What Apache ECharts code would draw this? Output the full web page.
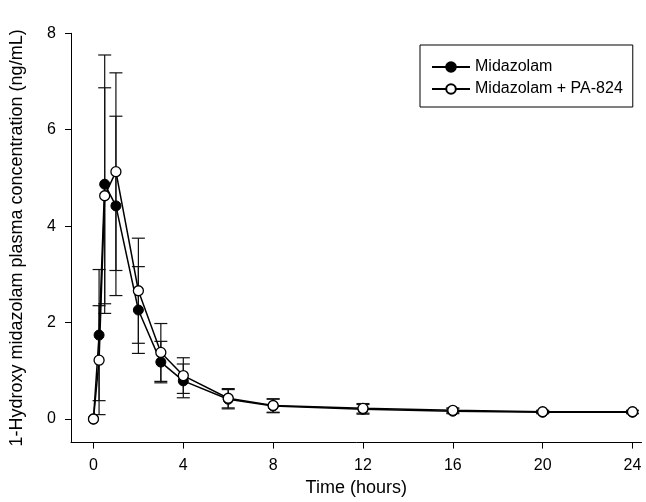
<!DOCTYPE html>
<html>
<head>
<meta charset="utf-8">
<script src="https://cdn.jsdelivr.net/npm/echarts@6/dist/echarts.min.js"></script>
<style>
  html, body { margin: 0; padding: 0; background: #fff; }
  #chart { width: 646px; height: 502px; }
</style>
</head>
<body>
<div id="chart"></div>
<script>
// sampling times (hours)
const times = [0, 0.25, 0.5, 1, 2, 3, 4, 6, 8, 12, 16, 20, 24];
// Midazolam alone: mean and SD
const mdzMean = [0, 1.74, 4.87, 4.42, 2.26, 1.18, 0.79, 0.41, 0.27, 0.20, 0.16, 0.14, 0.14];
const mdzSd = [0, 1.36, 2.68, 1.86, 0.90, 0.43, 0.35, 0.20, 0.14, 0.10, 0.05, 0.03, 0.03];
// Midazolam + PA-824: mean and SD
const comboMean = [0, 1.22, 4.63, 5.13, 2.66, 1.38, 0.90, 0.43, 0.28, 0.22, 0.18, 0.15, 0.15];
const comboSd = [0, 1.13, 2.24, 2.05, 1.09, 0.60, 0.37, 0.20, 0.14, 0.10, 0.05, 0.03, 0.03];
const xTicks = [0, 4, 8, 12, 16, 20, 24];
const yTicks = [0, 2, 4, 6, 8];

const font = '"Liberation Sans", Arial, sans-serif';

function pairs(mean) {
  return times.map((t, i) => [t, mean[i]]);
}
function bars(mean, sd) {
  const out = [];
  times.forEach((t, i) => {
    if (sd[i] > 0) out.push([t, mean[i] - sd[i], mean[i] + sd[i]]);
  });
  return out;
}
function errorItem(params, api) {
  const x = api.value(0);
  const lo = api.coord([x, api.value(1)]);
  const hi = api.coord([x, api.value(2)]);
  const w = 6.5;
  const style = { stroke: '#111', lineWidth: 1.2, fill: null };
  return {
    type: 'group',
    children: [
      { type: 'line', shape: { x1: lo[0], y1: lo[1], x2: hi[0], y2: hi[1] }, style },
      { type: 'line', shape: { x1: lo[0] - w, y1: lo[1], x2: lo[0] + w, y2: lo[1] }, style },
      { type: 'line', shape: { x1: hi[0] - w, y1: hi[1], x2: hi[0] + w, y2: hi[1] }, style }
    ]
  };
}

const chart = echarts.init(document.getElementById('chart'));
chart.setOption({
  animation: false,
  backgroundColor: '#fff',
  textStyle: { fontFamily: font },
  grid: { left: 69, top: 33.3, width: 572.5, height: 409.3 },
  legend: {
    orient: 'vertical',
    left: 420,
    top: 45,
    padding: [14, 10, 10, 11],
    itemGap: 6,
    itemWidth: 38,
    itemHeight: 12,
    borderColor: '#000',
    borderWidth: 1,
    textStyle: { fontFamily: font, fontSize: 16, color: '#000' },
    data: ['Midazolam', 'Midazolam + PA-824']
  },
  xAxis: {
    type: 'value',
    min: -1,
    max: 24.4,
    name: 'Time (hours)',
    nameLocation: 'middle',
    nameGap: 36,
    nameTextStyle: { fontFamily: font, fontSize: 18, color: '#000' },
    splitLine: { show: false },
    axisLine: { onZero: false, lineStyle: { color: '#000', width: 1 } },
    axisTick: { customValues: xTicks, length: 6, lineStyle: { color: '#000' } },
    axisLabel: { customValues: xTicks, margin: 15, fontFamily: font, fontSize: 16, color: '#000' }
  },
  yAxis: {
    type: 'value',
    min: -0.49,
    max: 8,
    name: '1-Hydroxy midazolam plasma concentration (ng/mL)',
    nameLocation: 'middle',
    nameGap: 45,
    nameTextStyle: { fontFamily: font, fontSize: 18, color: '#000' },
    splitLine: { show: false },
    axisLine: { onZero: false, lineStyle: { color: '#000', width: 1 } },
    axisTick: { customValues: yTicks, length: 6, lineStyle: { color: '#000' } },
    axisLabel: { customValues: yTicks, margin: 15, fontFamily: font, fontSize: 16, color: '#000' }
  },
  series: [
    {
      type: 'custom',
      renderItem: errorItem,
      data: bars(mdzMean, mdzSd),
      z: 1,
      silent: true
    },
    {
      type: 'custom',
      renderItem: errorItem,
      data: bars(comboMean, comboSd),
      z: 1,
      silent: true
    },
    {
      name: 'Midazolam',
      type: 'line',
      data: pairs(mdzMean),
      symbol: 'circle',
      symbolSize: 10,
      z: 3,
      lineStyle: { color: '#000', width: 1.5 },
      itemStyle: { color: '#000', borderColor: '#000', borderWidth: 1 }
    },
    {
      name: 'Midazolam + PA-824',
      type: 'line',
      data: pairs(comboMean),
      symbol: 'circle',
      symbolSize: 10,
      z: 4,
      lineStyle: { color: '#000', width: 1.5 },
      itemStyle: { color: '#fff', borderColor: '#000', borderWidth: 1.3 }
    }
  ]
});
</script>
</body>
</html>
